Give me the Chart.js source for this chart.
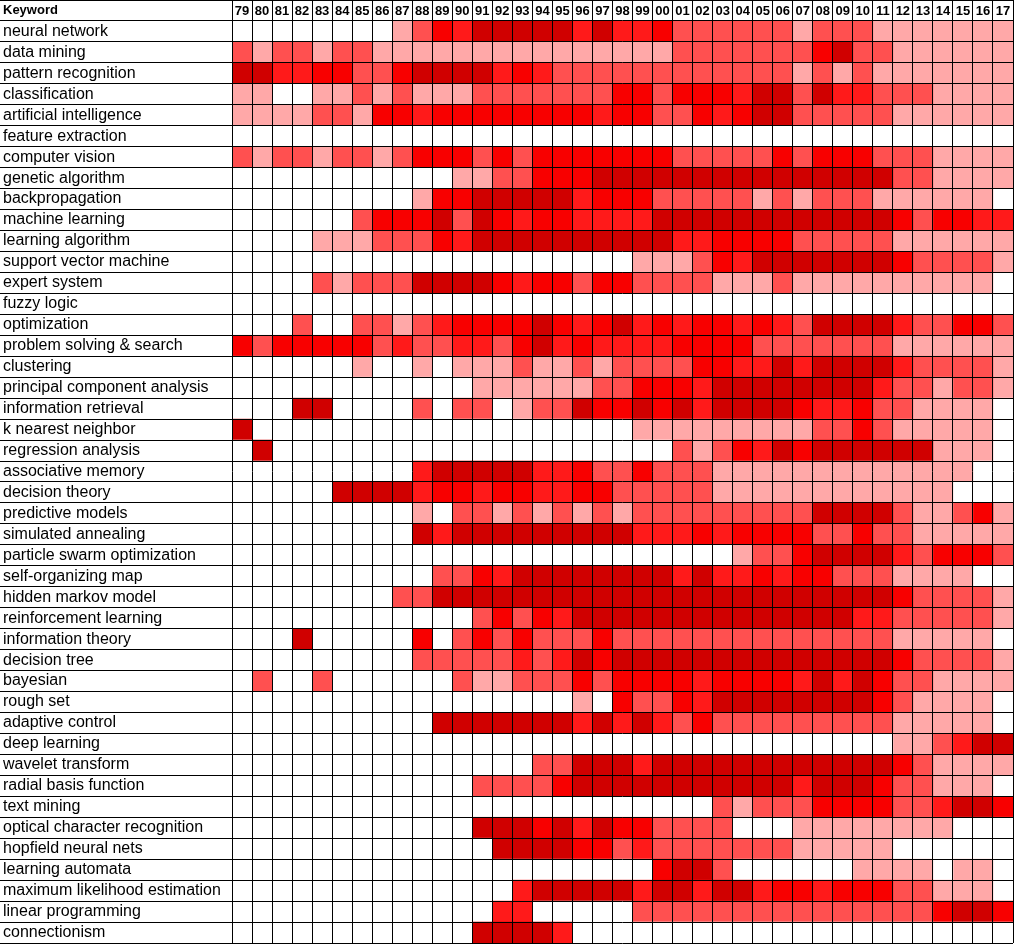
<!DOCTYPE html>
<html>
<head>
<meta charset="utf-8">
<script src="https://cdn.jsdelivr.net/npm/chart.js@4.4.1/dist/chart.umd.min.js"></script>
<style>
  html, body { margin: 0; padding: 0; background: #fff; }
  #wrap { width: 1014px; height: 944px; }
</style>
</head>
<body>
<div id="wrap"><canvas id="heat" width="1014" height="944"></canvas></div>
<script>
const years = ['79','80','81','82','83','84','85','86','87','88','89','90','91','92','93','94','95','96','97','98',
  '99','00','01','02','03','04','05','06','07','08','09','10','11','12','13','14','15','16','17'];

const keywords = ['neural network','data mining','pattern recognition','classification','artificial intelligence',
  'feature extraction','computer vision','genetic algorithm','backpropagation','machine learning',
  'learning algorithm','support vector machine','expert system','fuzzy logic','optimization',
  'problem solving & search','clustering','principal component analysis','information retrieval',
  'k nearest neighbor','regression analysis','associative memory','decision theory','predictive models',
  'simulated annealing','particle swarm optimization','self-organizing map','hidden markov model',
  'reinforcement learning','information theory','decision tree','bayesian','rough set','adaptive control',
  'deep learning','wavelet transform','radial basis function','text mining','optical character recognition',
  'hopfield neural nets','learning automata','maximum likelihood estimation','linear programming','connectionism'];

// 0 = none, 1 = light, 2 = medium, 3/4 = strong, 5 = strongest
const levelColors = ['#ffffff', '#ffa8a8', '#ff5050', '#ff1a1a', '#f80000', '#d00000'];

// one row per keyword, one value per year (79 .. 17)
const heat = [
  [0,0,0,0,0,0,0,0,1,2,4,3,5,5,5,5,5,3,5,3,3,4,2,2,2,2,2,2,1,2,2,2,1,1,1,1,1,1,1],
  [2,1,2,2,1,2,2,1,1,1,1,1,1,1,1,1,1,1,1,1,1,1,2,2,2,2,2,2,2,4,5,2,2,1,1,1,1,1,1],
  [5,5,3,3,4,4,2,2,4,5,5,5,5,3,4,3,2,2,2,2,2,2,2,2,2,2,2,2,1,2,1,2,1,1,1,1,1,1,1],
  [1,1,0,0,1,1,2,1,2,1,1,1,2,2,2,2,2,2,2,4,4,2,4,4,4,3,5,5,2,5,3,3,2,2,2,1,1,1,1],
  [1,1,1,1,2,2,1,4,4,3,4,4,4,4,4,4,4,4,3,4,4,2,2,4,3,4,5,5,2,2,2,2,2,1,1,1,1,1,1],
  [0,0,0,0,0,0,0,0,0,0,0,0,0,0,0,0,0,0,0,0,0,0,0,0,0,0,0,0,0,0,0,0,0,0,0,0,0,0,0],
  [2,1,2,2,1,2,2,1,2,4,4,4,2,4,2,4,4,4,4,4,4,4,2,2,2,2,2,4,2,4,4,4,2,2,2,1,1,1,1],
  [0,0,0,0,0,0,0,0,0,0,0,1,1,2,2,4,4,4,5,5,5,5,5,5,5,5,5,5,5,5,5,5,5,2,2,1,1,1,1],
  [0,0,0,0,0,0,0,0,0,1,4,4,5,5,5,5,5,3,4,4,4,2,2,2,2,2,1,2,1,2,2,2,1,1,1,1,1,1,0],
  [0,0,0,0,0,0,2,4,4,4,5,2,5,4,3,4,4,3,3,3,3,5,5,5,5,5,5,5,5,5,5,5,5,4,2,4,4,3,3],
  [0,0,0,0,1,1,1,2,2,2,4,3,5,5,5,5,5,5,5,5,5,5,3,3,4,4,4,4,2,2,2,2,2,1,1,1,1,1,1],
  [0,0,0,0,0,0,0,0,0,0,0,0,0,0,0,0,0,0,0,0,1,1,1,2,4,3,5,5,5,5,5,5,5,4,2,2,2,2,1],
  [0,0,0,0,2,1,2,2,2,5,5,5,5,4,3,4,4,2,4,4,2,2,2,2,1,1,1,2,1,1,1,1,1,1,1,1,1,1,0],
  [0,0,0,0,0,0,0,0,0,0,0,0,0,0,0,0,0,0,0,0,0,0,0,0,0,0,0,0,0,0,0,0,0,0,0,0,0,0,0],
  [0,0,0,2,0,0,2,2,1,2,3,4,4,4,4,5,4,3,4,5,3,4,3,4,4,3,4,3,2,5,5,5,5,3,2,2,4,4,2],
  [4,2,4,4,4,4,4,2,3,2,2,3,3,2,4,5,3,4,3,3,3,3,4,4,4,4,2,2,2,2,2,2,2,1,1,1,1,1,1],
  [0,0,0,0,0,0,1,0,0,1,0,1,1,1,2,1,1,2,1,2,2,2,2,4,4,3,3,5,3,5,5,5,5,3,2,2,2,2,1],
  [0,0,0,0,0,0,0,0,0,0,0,0,1,1,1,1,1,1,2,2,4,4,4,3,5,5,5,5,5,5,5,5,3,2,2,1,2,2,1],
  [0,0,0,5,5,0,0,0,0,2,0,2,2,0,1,2,2,5,4,4,5,4,5,3,5,5,5,5,4,3,3,4,2,2,1,1,1,1,0],
  [5,0,0,0,0,0,0,0,0,0,0,0,0,0,0,0,0,0,0,0,1,1,1,1,1,1,1,1,1,2,2,4,2,1,1,1,1,1,0],
  [0,5,0,0,0,0,0,0,0,0,0,0,0,0,0,0,0,0,0,0,0,0,2,1,2,4,3,5,4,5,5,5,5,5,5,1,1,1,0],
  [0,0,0,0,0,0,0,0,0,3,5,5,5,5,5,3,3,4,2,2,4,2,2,2,1,1,1,1,1,1,1,1,1,1,1,1,1,0,0],
  [0,0,0,0,0,5,5,5,5,3,4,4,3,4,4,3,3,4,4,2,2,2,2,2,1,1,1,1,1,1,1,1,1,1,1,1,0,0,0],
  [0,0,0,0,0,0,0,0,0,1,0,2,2,1,2,1,2,1,2,1,2,2,2,2,2,2,2,2,2,5,5,5,5,2,1,1,2,4,1],
  [0,0,0,0,0,0,0,0,0,5,3,5,5,5,5,5,5,5,5,5,3,3,3,4,3,4,4,4,4,2,2,4,2,2,1,1,1,1,1],
  [0,0,0,0,0,0,0,0,0,0,0,0,0,0,0,0,0,0,0,0,0,0,0,0,0,1,2,2,4,5,5,5,5,3,2,4,4,4,2],
  [0,0,0,0,0,0,0,0,0,0,2,2,4,3,5,5,5,5,5,5,5,5,3,5,3,3,4,3,4,4,2,2,2,1,1,1,1,0,0],
  [0,0,0,0,0,0,0,0,2,2,5,5,5,5,5,5,5,5,5,5,5,5,5,5,5,5,5,5,5,5,5,5,5,4,2,2,2,2,1],
  [0,0,0,0,0,0,0,0,0,0,0,0,2,4,2,4,3,5,5,5,5,5,5,5,5,5,5,5,5,5,5,3,3,2,2,2,2,2,1],
  [0,0,0,5,0,0,0,0,0,4,0,2,4,2,4,2,2,2,4,2,2,2,2,2,2,2,2,2,2,2,2,2,2,1,1,1,1,1,0],
  [0,0,0,0,0,0,0,0,0,2,2,2,2,2,3,2,3,5,4,5,5,5,5,5,5,5,5,5,5,5,5,5,5,4,2,2,2,2,1],
  [0,2,0,0,2,0,0,0,0,0,0,2,1,1,2,2,2,4,2,4,4,4,4,3,4,4,4,4,3,5,3,5,4,2,2,1,1,1,1],
  [0,0,0,0,0,0,0,0,0,0,0,0,0,0,0,0,0,1,0,4,2,2,4,3,5,5,5,5,5,5,5,5,4,2,1,1,1,1,0],
  [0,0,0,0,0,0,0,0,0,0,5,5,5,5,5,5,5,3,5,3,5,3,2,4,2,2,2,2,2,2,2,2,2,1,1,1,1,1,0],
  [0,0,0,0,0,0,0,0,0,0,0,0,0,0,0,0,0,0,0,0,0,0,0,0,0,0,0,0,0,0,0,0,0,1,1,2,3,5,5],
  [0,0,0,0,0,0,0,0,0,0,0,0,0,0,0,2,2,5,5,5,3,5,5,5,5,5,5,5,5,5,5,5,5,4,2,1,1,1,1],
  [0,0,0,0,0,0,0,0,0,0,0,0,2,2,2,2,4,5,5,5,5,5,5,5,5,5,5,5,3,5,5,5,4,2,2,1,1,1,0],
  [0,0,0,0,0,0,0,0,0,0,0,0,0,0,0,0,0,0,0,0,0,0,0,0,2,1,2,2,2,4,4,4,4,2,2,3,5,5,4],
  [0,0,0,0,0,0,0,0,0,0,0,0,5,5,5,4,5,3,5,4,4,2,2,2,2,0,0,0,1,1,1,1,1,1,1,1,0,0,0],
  [0,0,0,0,0,0,0,0,0,0,0,0,0,5,5,5,5,4,4,2,3,2,2,2,2,2,2,2,1,1,1,1,1,0,0,0,0,0,0],
  [0,0,0,0,0,0,0,0,0,0,0,0,0,0,0,0,0,0,0,0,0,4,5,5,2,0,0,0,0,0,0,1,1,1,1,0,1,1,0],
  [0,0,0,0,0,0,0,0,0,0,0,0,0,0,3,5,5,5,5,5,3,5,5,3,5,5,3,4,4,3,4,4,4,2,2,1,1,1,0],
  [0,0,0,0,0,0,0,0,0,0,0,0,0,3,3,0,0,0,0,0,2,2,2,2,2,2,2,2,2,2,2,2,2,2,2,4,5,5,4],
  [0,0,0,0,0,0,0,0,0,0,0,0,5,5,5,5,3,0,0,0,0,0,0,0,0,0,0,0,0,0,0,0,0,0,0,0,0,0,0]
];

// first row of the table is the header
const rows = ['Keyword'].concat(keywords);
const FONT = '"Liberation Sans", Arial, Helvetica, sans-serif';

const datasets = years.map((yr, j) => ({
  label: yr,
  data: rows.map(() => 1),
  backgroundColor: rows.map((r, i) => i === 0 ? '#ffffff' : levelColors[heat[i-1][j]]),
  borderWidth: 0,
  barPercentage: 1,
  categoryPercentage: 1
}));

// no extra label padding around the table
const noPad = s => { s.paddingTop = 0; s.paddingBottom = 0; s.paddingLeft = 0; s.paddingRight = 0; };

new Chart(document.getElementById('heat'), {
  type: 'bar',
  data: { labels: rows, datasets },
  options: {
    indexAxis: 'y',
    responsive: false,
    animation: false,
    devicePixelRatio: 1,
    layout: { padding: { left: 3, right: 1, top: 0, bottom: 1 } },
    plugins: { legend: { display: false }, tooltip: { enabled: false } },
    scales: {
      x: {
        type: 'linear', stacked: true, min: 0, max: years.length,
        position: 'bottom',
        ticks: { display: false, stepSize: 1 },
        grid: { color: '#000', lineWidth: 1, drawTicks: false, z: 1 },
        border: { display: false },
        afterFit: s => { s.height = 0; noPad(s); }
      },
      // year labels sit inside the header row (mirror = drawn into the chart area, not clipped)
      years: {
        type: 'category', labels: years, position: 'top', offset: true,
        grid: { display: false, drawTicks: false },
        border: { display: false },
        ticks: { color: '#000', mirror: true, padding: 4, z: 2, autoSkip: false, maxRotation: 0,
                 font: { family: FONT, size: 13, weight: 'bold' } },
        afterFit: s => { s.height = 0; noPad(s); }
      },
      y: {
        type: 'category', stacked: true, position: 'left', offset: true,
        grid: { color: '#000', lineWidth: 1, drawTicks: true, tickLength: 232, offset: true, z: 1 },
        border: { display: false },
        ticks: {
          color: '#000', crossAlign: 'far', autoSkip: false, z: 2,
          font: ctx => ctx.index === 0
            ? { family: FONT, size: 13, weight: 'bold' }
            : { family: FONT, size: 16, weight: 'normal' }
        },
        afterFit: s => { s.width = 229; noPad(s); }
      }
    }
  }
});
</script>
</body>
</html>
